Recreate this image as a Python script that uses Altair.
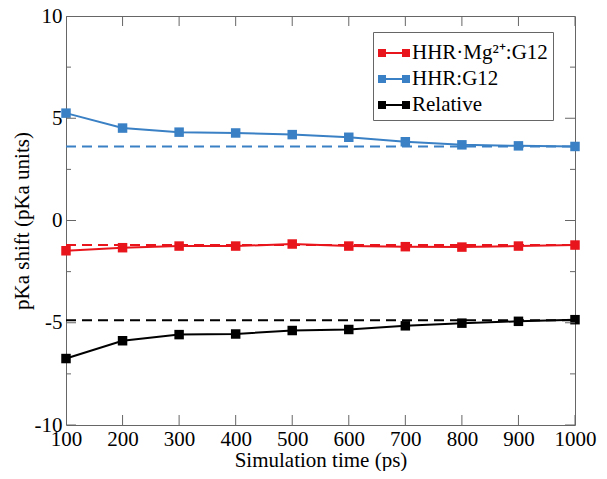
import altair as alt
import pandas as pd

times = [100, 200, 300, 400, 500, 600, 700, 800, 900, 1000]
mg_values = [-1.48, -1.33, -1.25, -1.25, -1.15, -1.25, -1.28, -1.30, -1.25, -1.20]
hhr_values = [5.25, 4.52, 4.32, 4.28, 4.20, 4.07, 3.85, 3.70, 3.65, 3.62]
rel_values = [-6.75, -5.88, -5.58, -5.55, -5.38, -5.33, -5.15, -5.02, -4.93, -4.85]

series_names = ["HHR\u00b7Mg\u00b2\u207a:G12", "HHR:G12", "Relative"]
series_colors = ["#e8161c", "#3a80c4", "#000000"]
ref_values = [-1.2, 3.62, -4.88]

xticks = times
yticks_major = [-10, -5, 0, 5, 10]
yticks_minor = [-7.5, -2.5, 2.5, 7.5]

rows = []
for name, vals in zip(series_names, [mg_values, hhr_values, rel_values]):
    for t, v in zip(times, vals):
        rows.append({"time": t, "value": v, "series": name})
df = pd.DataFrame(rows)
ref_df = pd.DataFrame({"series": series_names, "value": ref_values})
xt_df = pd.DataFrame({"time": xticks})
ymaj_df = pd.DataFrame({"value": yticks_major})
ymin_df = pd.DataFrame({"value": yticks_minor})

W, H = 509, 409
FONT = "Liberation Serif"
FRAME = "#666666"

xscale = alt.Scale(domain=[100, 1000], nice=False)
yscale = alt.Scale(domain=[-10, 10], nice=False)
cscale = alt.Scale(domain=series_names, range=series_colors)

x_axis = alt.Axis(orient="bottom", values=xticks, title="Simulation time (ps)",
                  ticks=False, domain=False, grid=False, labelPadding=3, titlePadding=0,
                  labelFontSize=21, titleFontSize=21, labelFont=FONT, titleFont=FONT,
                  labelColor="black", titleColor="black", titleFontWeight="normal",
                  labelFlush=False, labelOverlap=False, format="d",
                  labelExpr="replace(datum.label, '\u2212', '-')")
y_axis = alt.Axis(orient="left", values=yticks_major, title="pKa shift (pKa units)",
                  ticks=False, domain=False, grid=False, labelPadding=4, titlePadding=2,
                  labelFontSize=21, titleFontSize=21, labelFont=FONT, titleFont=FONT,
                  labelColor="black", titleColor="black", titleFontWeight="normal",
                  labelFlush=False, labelOverlap=False, format="d",
                  labelExpr="replace(datum.label, '\u2212', '-')")

X = alt.X("time:Q", scale=xscale, axis=x_axis)
Y = alt.Y("value:Q", scale=yscale, axis=y_axis)

lines = alt.Chart(df).mark_line(strokeWidth=2).encode(
    x=X, y=Y,
    color=alt.Color("series:N", scale=cscale,
                    legend=alt.Legend(title=None, orient="none", legendX=307, legendY=16,
                                    symbolType="M-1,-0.25H-0.5V0.25H-1Z M0.5,-0.25H1V0.25H0.5Z M-0.5,-0.07H0.5V0.07H-0.5Z",
                                    symbolSize=1024, symbolStrokeWidth=0,
                                    labelFont=FONT, labelFontSize=21, labelColor="black",
                                    labelLimit=400, labelOffset=2, rowPadding=0,
                                    strokeColor=FRAME, fillColor="white", padding=5)),
    detail="series:N",
)

points = alt.Chart(df).mark_square(size=90, opacity=1).encode(
    x=X, y=Y, color=alt.Color("series:N", scale=cscale),
)

rules = alt.Chart(ref_df).transform_calculate(time="100").mark_rule(strokeWidth=2, strokeDash=[10, 6]).encode(
    x=X, x2=alt.value(W), y=Y, color=alt.Color("series:N", scale=cscale),
)

tick_style = dict(color=FRAME, thickness=1, clip=True, opacity=1)
xt_top = alt.Chart(xt_df).mark_tick(size=20, **tick_style).encode(x=X, y=alt.value(0))
xt_bot = alt.Chart(xt_df).mark_tick(size=20, **tick_style).encode(x=X, y=alt.value(H))
ymaj_l = alt.Chart(ymaj_df).mark_tick(size=20, **tick_style).encode(y=Y, x=alt.value(0))
ymaj_r = alt.Chart(ymaj_df).mark_tick(size=20, **tick_style).encode(y=Y, x=alt.value(W))
ymin_l = alt.Chart(ymin_df).mark_tick(size=10, **tick_style).encode(y=Y, x=alt.value(0))
ymin_r = alt.Chart(ymin_df).mark_tick(size=10, **tick_style).encode(y=Y, x=alt.value(W))

chart = alt.layer(lines, rules, points, xt_top, xt_bot, ymaj_l, ymaj_r, ymin_l, ymin_r).properties(
    width=W, height=H,
    autosize=alt.AutoSizeParams(type="none"),
    padding={"left": 58, "top": 8, "right": 24, "bottom": 46},
).configure_view(stroke=FRAME, strokeWidth=1).configure_axis(grid=False).configure_legend(
    labelFont=FONT)

chart.save("out.html", embed_options={"renderer": "svg", "actions": False})
